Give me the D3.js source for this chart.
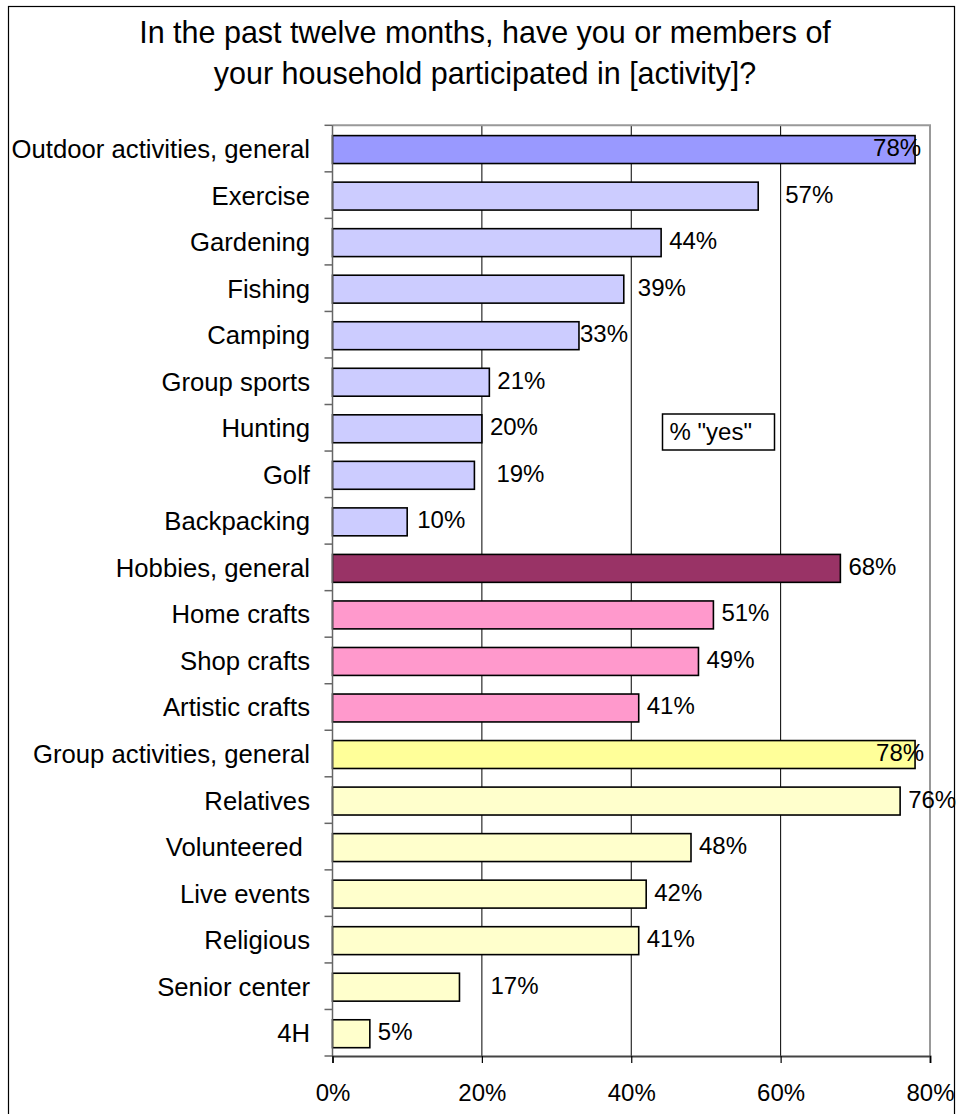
<!DOCTYPE html>
<html>
<head>
<meta charset="utf-8">
<script src="https://cdn.jsdelivr.net/npm/d3@7/dist/d3.min.js"></script>
<style>
  html, body { margin: 0; padding: 0; background: #fff; }
  svg { display: block; font-family: "Liberation Sans", Arial, sans-serif; }
</style>
</head>
<body>
<svg id="chart" width="956" height="1114"></svg>
<script>
// Survey activities, top to bottom
const categories = [
  "Outdoor activities, general", "Exercise", "Gardening", "Fishing", "Camping",
  "Group sports", "Hunting", "Golf", "Backpacking",
  "Hobbies, general", "Home crafts", "Shop crafts", "Artistic crafts",
  "Group activities, general", "Relatives", "Volunteered ", "Live events",
  "Religious", "Senior center", "4H"
];
// Percent answering "yes"
const values = [78, 57, 44, 39, 33, 21, 20, 19, 10, 68, 51, 49, 41, 78, 76, 48, 42, 41, 17, 5];
// Activity group of each row
const groups = [
  "outdoorAll", "outdoor", "outdoor", "outdoor", "outdoor", "outdoor", "outdoor", "outdoor", "outdoor",
  "hobbyAll", "hobby", "hobby", "hobby",
  "groupAll", "group", "group", "group", "group", "group", "group"
];
const xTicks = [0, 20, 40, 60, 80];
const titleLines = [
  "In the past twelve months, have you or members of",
  "your household participated in [activity]?"
];
const noteText = "% \"yes\"";

const fills = {
  outdoorAll: "#9999FF", outdoor: "#CCCCFF",
  hobbyAll: "#993366", hobby: "#FF99CC",
  groupAll: "#FFFF99", group: "#FFFFCC"
};

// hand-placed value labels (horizontal shift from default spot, px)
const labelShift = {
  "Outdoor activities, general": -50, "Exercise": 19, "Fishing": 6, "Camping": -7,
  "Golf": 14, "Backpacking": 2, "Group activities, general": -47, "Senior center": 23
};

const rows = categories.map((c, i) => ({ cat: c, value: values[i], group: groups[i] }));

const svg = d3.select("#chart");
const W = 956, H = 1114;
const plot = { left: 332.5, right: 930, top: 125.3, bottom: 1056 };

// outer chart frame
svg.append("rect")
  .attr("x", 8.5).attr("y", 6.5)
  .attr("width", 946).attr("height", H + 10)
  .attr("fill", "#fff").attr("stroke", "#000").attr("stroke-width", 1.2);

// title
svg.append("g").selectAll("text").data(titleLines).join("text")
  .attr("x", 485).attr("y", (d, i) => 43 + i * 41)
  .attr("text-anchor", "middle")
  .attr("font-size", 30.5)
  .attr("fill", "#000")
  .text(d => d);

const x = d3.scaleLinear().domain([0, 80]).range([plot.left, plot.right]);
const y = d3.scaleBand().domain(categories)
  .range([plot.top, plot.bottom]).paddingInner(0.4).paddingOuter(0.2);

// vertical gridlines
svg.append("g").selectAll("line").data(xTicks.filter(t => t > 0 && t < 80)).join("line")
  .attr("x1", d => x(d)).attr("x2", d => x(d))
  .attr("y1", plot.top).attr("y2", plot.bottom)
  .attr("stroke", "#000").attr("stroke-width", 1);

// plot frame: top and right edges
svg.append("path")
  .attr("d", `M${plot.left},${plot.top}H${plot.right}V${plot.bottom}`)
  .attr("fill", "none").attr("stroke", "#999").attr("stroke-width", 2);

// bars
svg.append("g").selectAll("rect").data(rows).join("rect")
  .attr("x", x(0))
  .attr("y", d => y(d.cat) + 1)
  .attr("width", d => x(d.value) - x(0))
  .attr("height", y.bandwidth())
  .attr("fill", d => fills[d.group])
  .attr("stroke", "#000").attr("stroke-width", 1.6);

// value labels
svg.append("g").selectAll("text").data(rows).join("text")
  .attr("x", d => x(d.value) + 8 + (labelShift[d.cat] || 0))
  .attr("y", d => y(d.cat) + 1 + y.bandwidth() / 2 + 6.5)
  .attr("font-size", 24)
  .attr("fill", "#000")
  .text(d => d.value + "%");

// left axis line and category boundary ticks
const step = y.step();
const y0 = plot.top;
svg.append("line")
  .attr("x1", plot.left).attr("x2", plot.left)
  .attr("y1", plot.top).attr("y2", plot.bottom)
  .attr("stroke", "#666").attr("stroke-width", 1.5);
svg.append("g").selectAll("line").data(d3.range(categories.length + 1)).join("line")
  .attr("x1", plot.left - 8).attr("x2", plot.left)
  .attr("y1", i => y0 + i * step).attr("y2", i => y0 + i * step)
  .attr("stroke", "#666").attr("stroke-width", 1.5);

// category labels
svg.append("g").selectAll("text").data(rows).join("text")
  .attr("x", 310)
  .attr("y", d => y(d.cat) + 1 + y.bandwidth() / 2 + 8.5)
  .attr("text-anchor", "end")
  .attr("font-size", 25.7)
  .attr("fill", "#000")
  .style("white-space", "pre")
  .text(d => d.cat);

// bottom axis
const xAxis = d3.axisBottom(x).tickValues(xTicks).tickFormat(d => d + "%")
  .tickSize(7).tickPadding(21);
const gx = svg.append("g").attr("transform", `translate(0,${plot.bottom})`).call(xAxis);
gx.select(".domain").attr("stroke", "#444").attr("stroke-width", 2);
gx.selectAll(".tick line").attr("stroke", "#000").attr("stroke-width", 1.2);
gx.selectAll(".tick text")
  .attr("font-size", 24).attr("fill", "#000")
  .attr("font-family", "\"Liberation Sans\", Arial, sans-serif");

// note box
const note = svg.append("g").attr("transform", "translate(662.5,414)");
note.append("rect")
  .attr("width", 112).attr("height", 36)
  .attr("fill", "#fff").attr("stroke", "#000").attr("stroke-width", 1.5);
note.append("text")
  .attr("x", 7).attr("y", 26)
  .attr("font-size", 24).attr("fill", "#000")
  .text(noteText);
</script>
</body>
</html>
